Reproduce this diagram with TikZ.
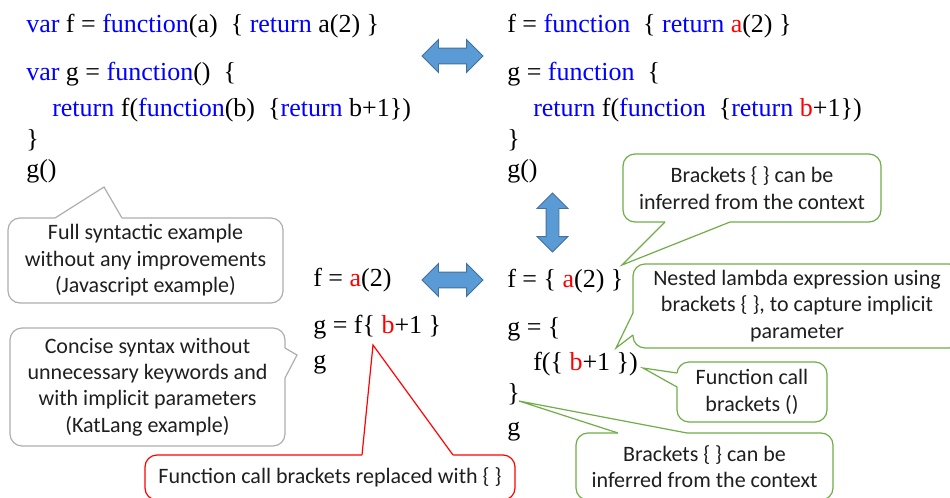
\documentclass[tikz,border=0pt]{standalone}
\usepackage{fontspec}
\setmainfont{Liberation Serif}
\newfontfamily\notefont{Carlito}
\usepackage{tikz}
\usetikzlibrary{shapes.arrows}
\definecolor{kwblue}{HTML}{0000FF}
\definecolor{hlred}{HTML}{FF0000}
\definecolor{arrowfill}{HTML}{5B9BD5}
\definecolor{arrowline}{HTML}{41719C}
\definecolor{notegreen}{HTML}{70AD47}
\definecolor{notegray}{HTML}{AEAEAE}
\newcommand{\kwd}[1]{\textcolor{kwblue}{#1}}
\newcommand{\hlr}[1]{\textcolor{hlred}{#1}}
\tikzset{
  code/.style={anchor=base west, inner sep=0pt, font=\fontsize{19.5}{23}\selectfont},
  note/.style={rounded corners=9pt, line width=0.9pt, fill=white, align=center, inner sep=0pt, text=black!88, font=\notefont\fontsize{16.5}{19.8}\selectfont},
  graynote/.style={note, draw=notegray},
  greennote/.style={note, draw=notegreen},
  rednote/.style={note, draw=hlred},
  tail/.style={line width=0.9pt, line join=miter},
  swaparrow/.style={double arrow, double arrow head extend=6.4pt, double arrow tip angle=90, inner xsep=0pt, inner ysep=5.6pt, minimum height=45.75pt, fill=arrowfill, draw=arrowline, line width=0.7pt},
}
\begin{document}
\begin{tikzpicture}[x=0.75pt,y=-0.75pt]
  \useasboundingbox (0,0) rectangle (950,497);
  % full syntax
  \node[code] (js1) at (26,32) {\kwd{var} f = \kwd{function}(a)\ \ \{ \kwd{return} a(2) \}};
  \node[code] (js2) at (26,80) {\kwd{var} g = \kwd{function}()\ \ \{};
  \node[code] (js3) at (52,116) {\kwd{return} f(\kwd{function}(b)\ \ \{\kwd{return} b+1\})};
  \node[code] (js4) at (26,147) {\}};
  \node[code] (js5) at (26,177) {g()};
  % without parameters
  \node[code] (np1) at (507,32) {f = \kwd{function}\ \ \{ \kwd{return} \hlr{a}(2) \}};
  \node[code] (np2) at (507,80) {g = \kwd{function}\ \ \{};
  \node[code] (np3) at (533,116) {\kwd{return} f(\kwd{function}\ \ \{\kwd{return} \hlr{b}+1\})};
  \node[code] (np4) at (507,147) {\}};
  \node[code] (np5) at (507,177) {g()};
  % concise
  \node[code] (kl1) at (313,286) {f = \hlr{a}(2)};
  \node[code] (kl2) at (313,333) {g = f\{ \hlr{b}+1 \}};
  \node[code] (kl3) at (313,368) {g};
  % braces only
  \node[code] (br1) at (507,287) {f = \{ \hlr{a}(2) \}};
  \node[code] (br2) at (507,335) {g = \{};
  \node[code] (br3) at (533,370) {f(\{ \hlr{b}+1 \})};
  \node[code] (br4) at (507,401) {\}};
  \node[code] (br5) at (507,435) {g};

  \node[swaparrow] (swapA) at (452.5,56) {};
  \node[swaparrow, rotate=90, minimum height=44.25pt, inner ysep=4.5pt, double arrow head extend=6.75pt] (swapB) at (552.5,222.5) {};
  \node[swaparrow] (swapC) at (452.5,280) {};

  % callouts
  \node[graynote, minimum width=206.25pt, minimum height=63.75pt] (full) at (145.5,260.5) {Full syntactic example\\without any improvements\\(Javascript example)};
  \coordinate (fulltip) at (104,187);
  \fill[white] (55,221) -- (55,218) -- (fulltip) -- (122,218) -- (122,221) -- cycle;
  \draw[tail, notegray] (55,218) -- (fulltip) -- (122,218);

  \node[graynote, minimum width=206.25pt, minimum height=88.5pt] (concise) at (147.5,387) {Concise syntax without\\unnecessary keywords and\\with implicit parameters\\(KatLang example)};
  \coordinate (concisetip) at (297,355);
  \fill[white] (282,348) -- (285,348) -- (concisetip) -- (285,378) -- (282,378) -- cycle;
  \draw[tail, notegray] (285,348) -- (concisetip) -- (285,378);

  \node[rednote, minimum width=277.5pt, minimum height=33.75pt] (replaced) at (330,477.5) {Function call brackets replaced with \{ \}};
  \coordinate (replacedtip) at (373,345);
  \fill[white] (362,458) -- (362,455) -- (replacedtip) -- (453,455) -- (453,458) -- cycle;
  \draw[tail, hlred] (362,455) -- (replacedtip) -- (453,455);

  \node[greennote, minimum width=193.5pt, minimum height=51pt] (inferA) at (752,188) {Brackets \{ \} can be\\inferred from the context};
  \coordinate (inferAtip) at (622,265);
  \fill[white] (665,219) -- (665,222) -- (inferAtip) -- (730,222) -- (730,219) -- cycle;
  \draw[tail, notegreen] (665,222) -- (inferAtip) -- (730,222);

  \node[greennote, minimum width=246pt, minimum height=63pt] (nested) at (797,306) {Nested lambda expression using\\brackets \{ \}, to capture implicit\\parameter};
  \coordinate (nestedtip) at (616,348);
  \fill[white] (636,313) -- (633,313) -- (nestedtip) -- (633,335) -- (636,335) -- cycle;
  \draw[tail, notegreen] (633,313) -- (nestedtip) -- (633,335);

  \node[greennote, minimum width=112.5pt, minimum height=45pt] (fcall) at (752,392) {Function call\\brackets ()};
  \coordinate (fcalltip) at (643,368);
  \fill[white] (680,373) -- (677,373) -- (fcalltip) -- (677,387) -- (680,387) -- cycle;
  \draw[tail, notegreen] (677,373) -- (fcalltip) -- (677,387);

  \node[greennote, minimum width=192.75pt, minimum height=50.25pt] (inferB) at (704.5,466.5) {Brackets \{ \} can be\\inferred from the context};
  \coordinate (inferBtip) at (519,401);
  \fill[white] (618,436) -- (618,433) -- (inferBtip) -- (687,433) -- (687,436) -- cycle;
  \draw[tail, notegreen] (618,433) -- (inferBtip) -- (687,433);
\end{tikzpicture}
\end{document}
